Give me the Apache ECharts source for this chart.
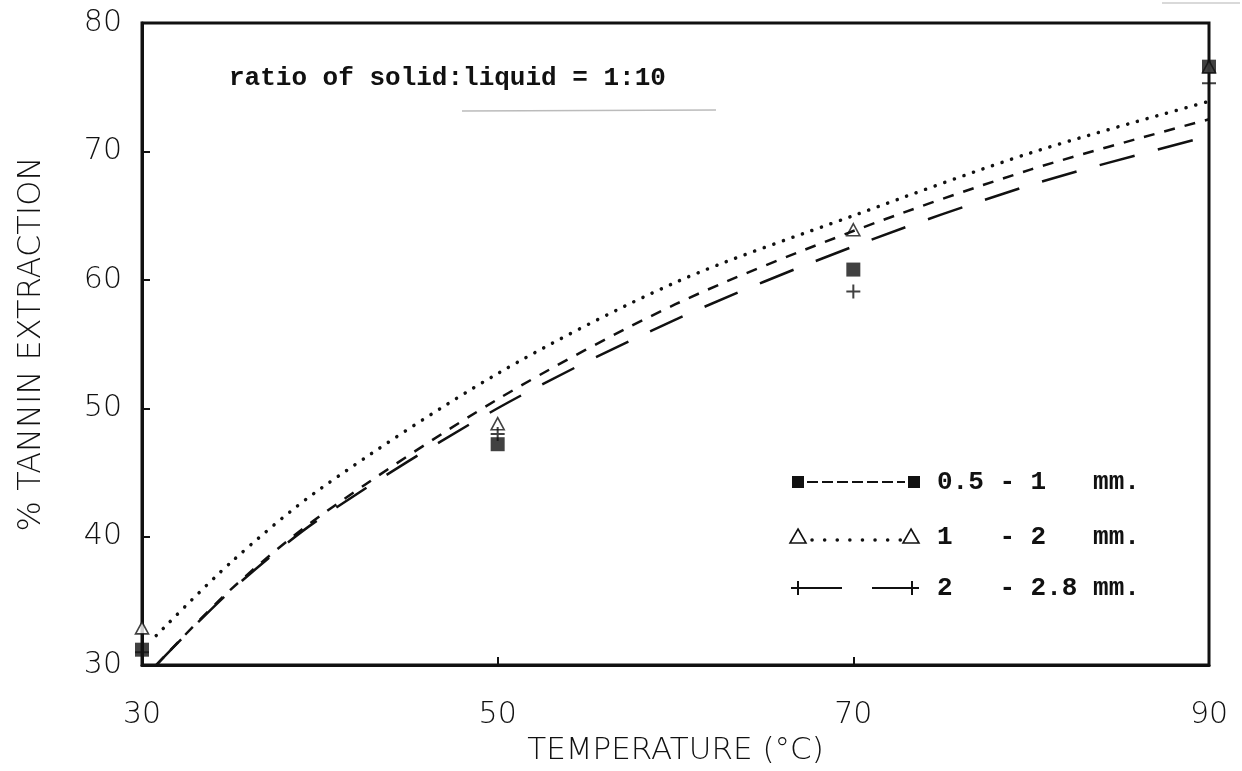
<!DOCTYPE html>
<html>
<head>
<meta charset="utf-8">
<script src="https://cdn.jsdelivr.net/npm/echarts@6/dist/echarts.min.js"></script>
<style>
html,body{margin:0;padding:0;background:#fff;}
#chart{width:1242px;height:771px;}
</style>
</head>
<body>
<div id="chart"></div>
<script>
// ---- data ----
const temps = [30, 50, 70, 90];
const size05_1 = [31.2, 47.2, 60.8, 76.6];   // squares
const size1_2 = [32.9, 48.8, 63.9, 76.6];    // triangles (90 °C hidden under square)
const size2_28 = [31.0, 48.0, 59.1, 75.3];   // plus
const fitX = [30.8, 35, 40, 50, 60, 70, 80, 90];
const fit05_1 = [30.0, 35.9, 41.6, 50.7, 58.1, 63.8, 68.6, 72.5];
const fit1_2 = [32.3, 38.0, 43.7, 52.7, 59.8, 65.0, 69.9, 73.9];
const fit2_28 = [30.0, 35.8, 41.4, 50.0, 56.9, 62.6, 67.4, 71.2];
const xTicks = [30, 50, 70, 90];
const yTicks = [30, 40, 50, 60, 70, 80];
const legendLabels = ['0.5 - 1   mm.', '1   - 2   mm.', '2   - 2.8 mm.'];
const annotation = 'ratio of solid:liquid = 1:10';

const pair = (xs, ys) => xs.map((x, i) => [x, ys[i]]);
const PLUS = 'path://M6,0H8V6H14V8H8V14H6V8H0V6H6Z';
const tickFont = {fontFamily: 'DejaVu Sans', fontWeight: 200, fontSize: 30, color: '#111'};
const monoFont = 'bold 26px "Liberation Mono", "DejaVu Sans Mono", monospace';

const chart = echarts.init(document.getElementById('chart'), null, {renderer: 'canvas'});

const rows = [482, 537, 588];
const lx1 = 798, lx2 = 914, tx = 937;
const graphics = [];
graphics.push({type: 'rect', shape: {x: lx1 - 6, y: rows[0] - 6, width: 12, height: 12}, style: {fill: '#111'}});
graphics.push({type: 'rect', shape: {x: lx2 - 6, y: rows[0] - 6, width: 12, height: 12}, style: {fill: '#111'}});
graphics.push({type: 'line', shape: {x1: lx1 + 9, y1: rows[0], x2: lx2 - 9, y2: rows[0]}, style: {stroke: '#111', lineWidth: 2, lineDash: [11, 4]}});
const tri = (cx, cy) => ({type: 'polygon', shape: {points: [[cx, cy - 8], [cx + 8, cy + 6], [cx - 8, cy + 6]]}, style: {fill: '#fff', stroke: '#111', lineWidth: 1.6}});
graphics.push(tri(lx1, rows[1]));
graphics.push(tri(lx2 - 3, rows[1]));
graphics.push({type: 'line', shape: {x1: lx1 + 14, y1: rows[1] + 3, x2: lx2 - 12, y2: rows[1] + 3}, style: {stroke: '#111', lineWidth: 3.5, lineDash: [0.1, 12.5], lineCap: 'round'}});
const plus = (cx, cy) => [
  {type: 'line', shape: {x1: cx - 7, y1: cy, x2: cx + 7, y2: cy}, style: {stroke: '#111', lineWidth: 2}},
  {type: 'line', shape: {x1: cx, y1: cy - 7, x2: cx, y2: cy + 7}, style: {stroke: '#111', lineWidth: 2}}
];
graphics.push(...plus(lx1, rows[2]));
graphics.push(...plus(lx2 - 2, rows[2]));
graphics.push({type: 'line', shape: {x1: lx1 + 7, y1: rows[2], x2: lx1 + 44, y2: rows[2]}, style: {stroke: '#111', lineWidth: 2}});
graphics.push({type: 'line', shape: {x1: lx2 - 42, y1: rows[2], x2: lx2 - 9, y2: rows[2]}, style: {stroke: '#111', lineWidth: 2}});
legendLabels.forEach((t, i) => {
  graphics.push({type: 'text', x: tx, y: rows[i], style: {text: t, font: monoFont, fill: '#111', textVerticalAlign: 'middle'}});
});
graphics.push({type: 'text', x: 229, y: 78, style: {text: annotation, font: monoFont, fill: '#111', textVerticalAlign: 'middle'}});
graphics.push({type: 'line', shape: {x1: 462, y1: 111, x2: 716, y2: 110}, style: {stroke: '#bbb', lineWidth: 1.5}});
graphics.push({type: 'line', shape: {x1: 1162, y1: 3, x2: 1240, y2: 3}, style: {stroke: '#ccc', lineWidth: 1.5}});

const option = {
  backgroundColor: '#fff',
  animation: false,
  grid: {left: 142, right: 33, top: 23, bottom: 104, show: true, borderColor: '#111', borderWidth: 3, backgroundColor: 'transparent'},
  xAxis: {
    type: 'value', min: 30, max: 90, interval: 20,
    name: 'TEMPERATURE (°C)', nameLocation: 'middle', nameGap: 68,
    nameTextStyle: Object.assign({}, tickFont, {fontSize: 31}),
    axisLine: {show: true, lineStyle: {color: '#111', width: 3}},
    axisTick: {show: true, inside: true, length: 8, lineStyle: {color: '#111', width: 2}},
    axisLabel: Object.assign({margin: 35, formatter: v => xTicks.includes(v) ? String(v) : ''}, tickFont),
    splitLine: {show: false}
  },
  yAxis: {
    type: 'value', min: 30, max: 80, interval: 10,
    name: '% TANNIN EXTRACTION', nameLocation: 'middle', nameGap: 94, nameRotate: 90,
    nameTextStyle: Object.assign({}, tickFont, {fontSize: 32}),
    axisLine: {show: true, lineStyle: {color: '#111', width: 3}},
    axisTick: {show: true, inside: true, length: 8, lineStyle: {color: '#111', width: 2}},
    axisLabel: Object.assign({margin: 20, formatter: v => yTicks.includes(v) ? String(v) : ''}, tickFont),
    splitLine: {show: false}
  },
  series: [
    {type: 'line', name: '0.5 - 1 mm fit', data: pair(fitX, fit05_1), smooth: 0.3, showSymbol: false, clip: true,
     lineStyle: {color: '#111', width: 2.5, type: [11, 10]}},
    {type: 'line', name: '1 - 2 mm fit', data: pair(fitX, fit1_2), smooth: 0.3, showSymbol: false, clip: true,
     lineStyle: {color: '#111', width: 3.5, type: [0.1, 10], cap: 'round'}},
    {type: 'line', name: '2 - 2.8 mm fit', data: pair(fitX, fit2_28), smooth: 0.3, showSymbol: false, clip: true,
     lineStyle: {color: '#111', width: 2.5, type: [36, 24]}},
    {type: 'scatter', name: '1 - 2 mm', data: pair(temps, size1_2), symbol: 'triangle', symbolSize: [13, 12], clip: false, z: 2,
     itemStyle: {color: '#fff', borderColor: '#111', borderWidth: 1.6}},
    {type: 'scatter', name: '2 - 2.8 mm', data: pair(temps, size2_28), symbol: PLUS, symbolSize: 14, clip: false, z: 3,
     itemStyle: {color: '#111'}},
    {type: 'scatter', name: '0.5 - 1 mm', data: pair(temps, size05_1), symbol: 'rect', symbolSize: 14, clip: false, z: 4,
     itemStyle: {color: '#111'}}
  ],
  graphic: graphics
};
chart.setOption(option);
</script>
</body>
</html>
